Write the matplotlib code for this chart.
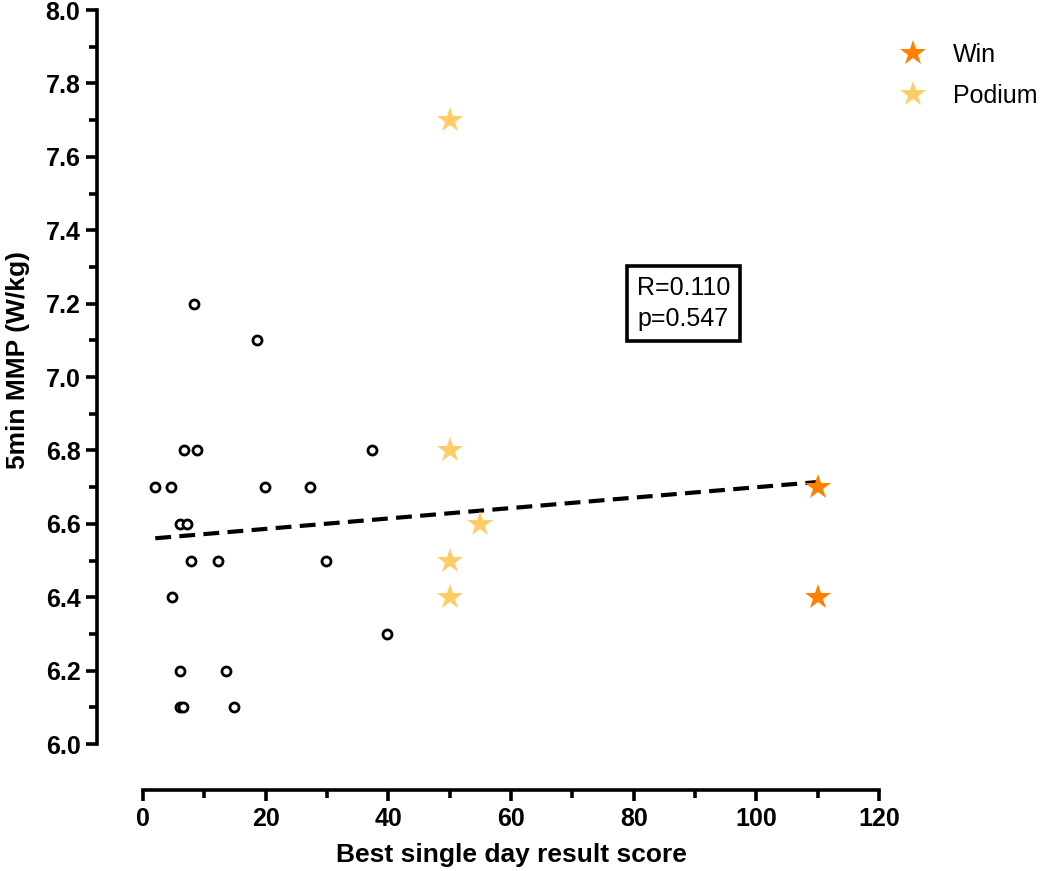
import numpy as np
import matplotlib.pyplot as plt
from matplotlib.lines import Line2D

plt.rcParams['font.family'] = ['Liberation Sans', 'DejaVu Sans']

# other riders (open circles)
other_x = [6.7, 8.75, 37.3, 2.0, 4.5, 19.9, 27.3, 6.0, 7.1, 7.9, 12.3, 29.9,
           4.7, 39.8, 6.1, 13.6, 6.0, 6.6, 14.9, 8.3, 18.6]
other_y = [6.8, 6.8, 6.8, 6.7, 6.7, 6.7, 6.7, 6.6, 6.6, 6.5, 6.5, 6.5,
           6.4, 6.3, 6.2, 6.2, 6.1, 6.1, 6.1, 7.2, 7.1]

# podium finishers
podium_x = [50, 50, 50, 50, 55]
podium_y = [7.7, 6.8, 6.5, 6.4, 6.6]

# winners
win_x = [110, 110]
win_y = [6.7, 6.4]

stats_text = 'R=0.110\np=0.547'

win_col = '#FF8000'
pod_col = '#FFCC66'

fig = plt.figure(figsize=(10.43, 8.71), dpi=100)
ax = fig.add_axes([143/1043, 127/871, 736/1043, 734/871])

# regression over all points
all_x = np.array(other_x + podium_x + win_x)
all_y = np.array(other_y + podium_y + win_y)
slope, icpt = np.polyfit(all_x, all_y, 1)
xx = np.array([all_x.min(), all_x.max()])
ax.plot(xx, slope * xx + icpt, color='black', lw=3.0, ls=(0, (3.8, 2.0)), zorder=2)

ax.plot(other_x, other_y, 'o', ms=6.5, mfc='white', mec='black', mew=2.0, ls='none', zorder=3)
ax.plot(podium_x, podium_y, '*', ms=19, color=pod_col, mew=0, ls='none', zorder=3)
ax.plot(win_x, win_y, '*', ms=19, color=win_col, mew=0, ls='none', zorder=3)

ax.text(88.1, 7.2, stats_text, fontsize=18, ha='center', va='center',
        linespacing=1.4,
        bbox=dict(boxstyle='square,pad=0.38', fc='white', ec='black', lw=2.6))

ax.set_xlim(0, 120)
ax.set_ylim(6.0, 8.0)
ax.set_xticks(np.arange(0, 121, 20))
ax.set_xticks(np.arange(0, 121, 10), minor=True)
ax.set_yticks(np.arange(6.0, 8.01, 0.2))
ax.set_yticks(np.arange(6.0, 8.01, 0.1), minor=True)
ax.set_yticklabels(['%.1f' % v for v in np.arange(6.0, 8.01, 0.2)])

for s in ['top', 'right']:
    ax.spines[s].set_visible(False)
for s in ['left', 'bottom']:
    ax.spines[s].set_position(('outward', 33))
    ax.spines[s].set_linewidth(2.6)

ax.tick_params(which='major', length=8, width=2.6, labelsize=18, pad=4)
ax.tick_params(which='minor', length=6, width=2.6)
for lab in ax.get_xticklabels() + ax.get_yticklabels():
    lab.set_fontweight('bold')

ax.set_xlabel('Best single day result score', fontsize=19, fontweight='bold', labelpad=9)
ax.set_ylabel('5min MMP (W/kg)', fontsize=19, fontweight='bold')
ax.yaxis.set_label_coords(-0.153, 0.523)

handles = [Line2D([], [], marker='*', ms=19, color=win_col, mew=0, ls='none'),
           Line2D([], [], marker='*', ms=19, color=pod_col, mew=0, ls='none')]
fig.legend(handles, ['Win', 'Podium'], loc='upper left', bbox_to_anchor=(0.830, 0.977),
           frameon=False, fontsize=18, handletextpad=0.6, labelspacing=0.68)

fig.savefig('out.png', dpi=100)
